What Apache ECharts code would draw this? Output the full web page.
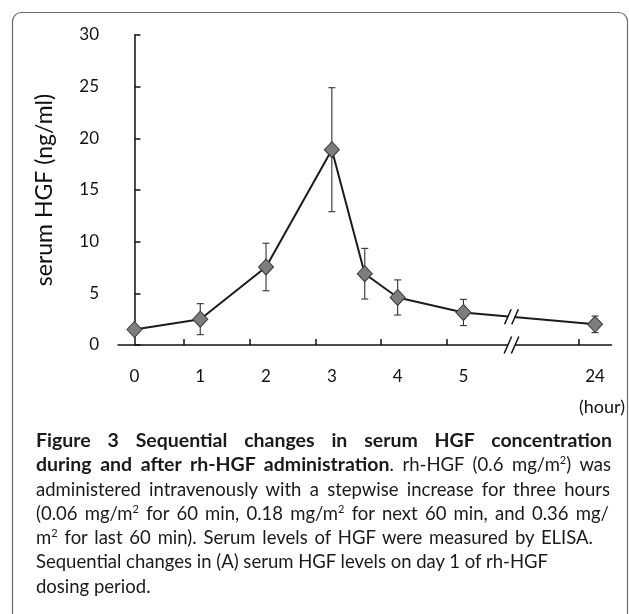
<!DOCTYPE html>
<html>
<head>
<meta charset="utf-8">
<script src="https://cdn.jsdelivr.net/npm/echarts@6/dist/echarts.min.js"></script>
<style>
  html, body { margin: 0; padding: 0; background: #fff; }
  #wrap { position: relative; width: 629px; height: 614px; overflow: hidden; }
  #chart { position: absolute; left: 0; top: 0; width: 629px; height: 614px; }
  #caption { position: absolute; left: 36px; top: 428px; font-family: Lato, sans-serif; font-size: 18.5px; line-height: 24.3px; color: #1a1a1a; }
  #caption .ln { white-space: nowrap; text-align: justify; text-align-last: justify; }
  #caption .ln.free { text-align: left; text-align-last: left; }
  #caption b { font-weight: 700; font-size: 19.5px; }
  #caption sup { font-size: 11px; line-height: 0; vertical-align: 7px; }
</style>
</head>
<body>
<div id="wrap">
  <div id="chart"></div>
  <div id="caption">
    <div class="ln" style="width:576px"><b>Figure 3 Sequential changes in serum HGF concentration</b></div>
    <div class="ln" style="width:575px"><b>during and after rh-HGF administration</b>. rh-HGF (0.6 mg/m<sup>2</sup>) was</div>
    <div class="ln" style="width:574px">administered intravenously with a stepwise increase for three hours</div>
    <div class="ln" style="width:573px">(0.06 mg/m<sup>2</sup> for 60 min, 0.18 mg/m<sup>2</sup> for next 60 min, and 0.36 mg/</div>
    <div class="ln" style="width:557px">m<sup>2</sup> for last 60 min). Serum levels of HGF were measured by ELISA.</div>
    <div class="ln free">Sequential changes in (A) serum HGF levels on day 1 of rh-HGF</div>
    <div class="ln free">dosing period.</div>
  </div>
</div>
<script>
// Sampling times (hours after start of infusion) and serum HGF (mean, SD)
const sampleHours = [0, 1, 2, 3, 3.5, 4, 5, 24];
const meanHGF     = [1.5, 2.5, 7.55, 18.9, 6.9, 4.6, 3.15, 2.0];
const sdHGF       = [0.3, 1.5, 2.3, 6.0, 2.45, 1.7, 1.27, 0.8];

// Tick labels of the time axis and the slot each one sits in
const hourLabels     = ['0', '1', '2', '3', '4', '5', '24'];
const labelSlots     = [0, 1, 2, 3, 4, 5, 7];
const tickSlots      = [0.75, 1.75, 2.75, 3.75, 4.75, 6.75];

// Broken time axis: hours 0-5 are linear, 24 h sits in slot 7 past the break
const breakSlot = 5.73;
function slotOf(h) { return h <= 5 ? h : 7; }

const FONT = 'Lato, sans-serif';
const INK = '#111';

const chart = echarts.init(document.getElementById('chart'), null, { renderer: 'canvas' });

const errData = sampleHours.map((h, i) => [slotOf(h), meanHGF[i] - sdHGF[i], meanHGF[i] + sdHGF[i]]);
const lineData = sampleHours.map((h, i) => [slotOf(h), meanHGF[i]]);

chart.setOption({
  animation: false,
  backgroundColor: '#fff',
  grid: { left: 118, right: 17.5, top: 35, bottom: 269 },
  xAxis: {
    type: 'value',
    min: -0.25,
    max: 7.25,
    axisLine: { show: true, lineStyle: { color: INK, width: 1.5 } },
    axisTick: { show: true, inside: true, length: 6, customValues: tickSlots, lineStyle: { color: INK, width: 1.5 } },
    axisLabel: {
      customValues: labelSlots,
      formatter: v => { const k = labelSlots.indexOf(v); return k >= 0 ? hourLabels[k] : ''; },
      margin: 23, fontSize: 17, fontFamily: FONT, color: INK
    },
    splitLine: { show: false }
  },
  yAxis: {
    type: 'value',
    min: 0, max: 30, interval: 5,
    name: 'serum HGF (ng/ml)',
    nameLocation: 'middle',
    nameGap: 62,
    nameTextStyle: { fontSize: 23, fontFamily: FONT, color: INK },
    axisLine: { show: true, lineStyle: { color: INK, width: 1.5 } },
    axisTick: { show: true, inside: true, length: 6, lineStyle: { color: INK, width: 1.5 } },
    axisLabel: { margin: 19, fontSize: 17, fontFamily: FONT, color: INK },
    splitLine: { show: false }
  },
  series: [
    {
      type: 'custom',
      name: 'SD',
      z: 2,
      data: errData,
      renderItem: (params, api) => {
        const lo = api.coord([api.value(0), api.value(1)]);
        const hi = api.coord([api.value(0), api.value(2)]);
        const cap = 3.5;
        const st = { stroke: '#333', lineWidth: 1.1 };
        return {
          type: 'group',
          children: [
            { type: 'line', shape: { x1: lo[0], y1: lo[1], x2: hi[0], y2: hi[1] }, style: st },
            { type: 'line', shape: { x1: hi[0] - cap, y1: hi[1], x2: hi[0] + cap, y2: hi[1] }, style: st },
            { type: 'line', shape: { x1: lo[0] - cap, y1: lo[1], x2: lo[0] + cap, y2: lo[1] }, style: st }
          ]
        };
      }
    },
    {
      type: 'line',
      name: 'serum HGF',
      z: 3,
      data: lineData,
      symbol: 'diamond',
      symbolSize: [15, 16],
      itemStyle: { color: '#7d7d7d', borderColor: '#3a3a3a', borderWidth: 1 },
      lineStyle: { color: '#1c1c1c', width: 2 }
    }
  ]
});

// "//" break marks on the axis line and on the data line
function breakMarks(cx, cy, h) {
  const dx = h * 0.22, off = 3.6;
  const st = { stroke: '#111', lineWidth: 1.5 };
  return [
    { type: 'polygon', z: 10, shape: { points: [
      [cx - off - dx, cy + h / 2], [cx - off + dx, cy - h / 2],
      [cx + off + dx, cy - h / 2], [cx + off - dx, cy + h / 2]] }, style: { fill: '#fff' } },
    { type: 'line', z: 11, shape: { x1: cx - off - dx, y1: cy + h / 2, x2: cx - off + dx, y2: cy - h / 2 }, style: st },
    { type: 'line', z: 11, shape: { x1: cx + off - dx, y1: cy + h / 2, x2: cx + off + dx, y2: cy - h / 2 }, style: st }
  ];
}

const iA = sampleHours.indexOf(5), iB = sampleHours.indexOf(24);
const t = (breakSlot - slotOf(5)) / (slotOf(24) - slotOf(5));
const yAtBreak = meanHGF[iA] + (meanHGF[iB] - meanHGF[iA]) * t;
const pAxis = chart.convertToPixel({ gridIndex: 0 }, [breakSlot, 0]);
const pLine = chart.convertToPixel({ gridIndex: 0 }, [breakSlot, yAtBreak]);

chart.setOption({
  graphic: [
    { type: 'rect', z: 0, silent: true, shape: { x: 12.5, y: 12.5, width: 615, height: 700, r: 9 },
      style: { fill: 'none', stroke: '#6a6a6a', lineWidth: 1.2 } },
    { type: 'text', z: 5, x: 625, y: 407, style: { text: '(hour)', fill: INK, font: '18px ' + FONT, align: 'right', verticalAlign: 'middle' } },
    ...breakMarks(pAxis[0], pAxis[1], 17),
    ...breakMarks(pLine[0], pLine[1], 15)
  ]
});
</script>
</body>
</html>
